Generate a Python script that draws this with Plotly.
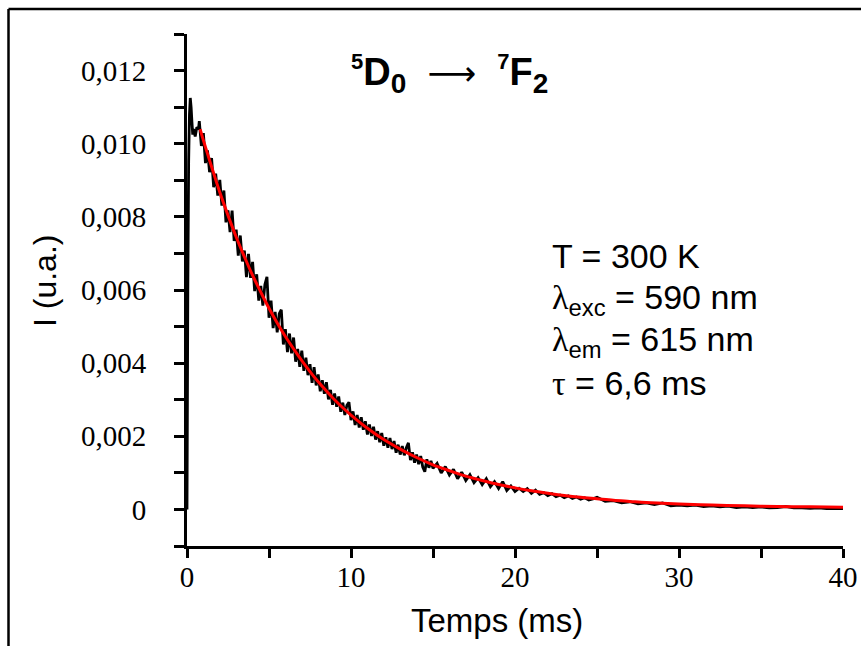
import plotly.graph_objects as go

# ---- measured decay (black trace): time in ms, intensity in units of 1e-5 a.u. ----
time_ms = [0.0, 0.05, 0.1, 0.15, 0.2, 0.25, 0.3, 0.35, 0.4, 0.5, 0.6, 0.7,
           0.75, 0.875, 1.0, 1.125, 1.25, 1.375, 1.5, 1.625, 1.75, 1.875,
           2.0, 2.125, 2.25, 2.375, 2.5, 2.625, 2.75, 2.875,
           3.0, 3.125, 3.25, 3.375, 3.5, 3.625, 3.75, 3.875,
           4.0, 4.125, 4.25, 4.375, 4.5, 4.625, 4.75, 4.875,
           5.0, 5.125, 5.25, 5.375, 5.5, 5.625, 5.75, 5.875,
           6.0, 6.125, 6.25, 6.375, 6.5, 6.625, 6.75, 6.875,
           7.0, 7.125, 7.25, 7.375, 7.5, 7.625, 7.75, 7.875,
           8.0, 8.125, 8.25, 8.375, 8.5, 8.625, 8.75, 8.875,
           9.0, 9.125, 9.25, 9.375, 9.5, 9.625, 9.75, 9.875,
           10.0, 10.125, 10.25, 10.375, 10.5, 10.625, 10.75, 10.875,
           11.0, 11.125, 11.25, 11.375, 11.5, 11.625, 11.75, 11.875,
           12.0, 12.125, 12.25, 12.375, 12.5, 12.625, 12.75, 12.875,
           13.0, 13.125, 13.25, 13.375, 13.5, 13.625, 13.75, 13.875,
           14.0, 14.125, 14.25, 14.375, 14.5, 14.625, 14.75, 14.875,
           15.0, 15.25, 15.5, 15.75, 16.0, 16.25, 16.5, 16.75,
           17.0, 17.25, 17.5, 17.75, 18.0, 18.25, 18.5, 18.75,
           19.0, 19.25, 19.5, 19.75, 20.0, 20.25, 20.5, 20.75,
           21.0, 21.25, 21.5, 21.75, 22.0, 22.25, 22.5, 22.75,
           23.0, 23.25, 23.5, 23.75, 24.0, 24.25, 24.5, 24.75,
           25.0, 25.5, 26.0, 26.5, 27.0, 27.5, 28.0, 28.5, 29.0, 29.5,
           30.0, 30.5, 31.0, 31.5, 32.0, 32.5, 33.0, 33.5, 34.0, 34.5,
           35.0, 35.5, 36.0, 36.5, 37.0, 37.5, 38.0, 38.5, 39.0, 39.5, 40.0]
intensity_e5 = [0, 600, 950, 1080, 1125, 1100, 1060, 1025, 1040, 1020, 1045, 1040,
                1062, 994, 1029, 947, 982, 922, 961, 881, 918, 858,
                901, 831, 872, 785, 818, 758, 817, 734,
                765, 694, 749, 678, 708, 635, 699, 633,
                677, 597, 643, 571, 611, 557, 615, 636,
                524, 571, 496, 540, 484, 535, 546, 451,
                493, 430, 481, 427, 470, 404, 439, 390,
                434, 379, 415, 367, 397, 346, 389, 339,
                369, 323, 353, 316, 348, 301, 327, 286,
                317, 281, 309, 267, 292, 258, 285, 293,
                244, 268, 231, 258, 224, 252, 218, 241,
                205, 232, 201, 226, 191, 214, 184, 209,
                174, 197, 169, 195, 165, 187, 155, 177,
                150, 173, 148, 169, 182, 135, 156, 128,
                150, 124, 146, 116, 103, 137, 114, 133,
                112, 126, 100, 117, 94, 110, 84, 102,
                79, 95, 73, 87, 68, 84, 62, 76,
                57, 76, 52, 64, 49, 58, 49, 57,
                44, 53, 41, 46, 38, 43, 35, 39,
                32, 37, 30, 34, 28, 32, 26, 29,
                33, 22, 24, 18, 21, 15, 18, 13, 18, 10,
                12, 10, 12, 8, 10, 7, 9, 5, 7, 5,
                7, 4, 5, 8, 4, 4, 3, 4, 2, 3, 2]

# ---- mono-exponential fit (red curve), tau = 6.6 ms ----
fit_time_ms = [0.8, 1, 1.5, 2, 2.5, 3, 3.5, 4, 4.5, 5, 5.5, 6, 6.5, 7, 7.5, 8, 8.5, 9, 9.5, 10,
               11, 12, 13, 14, 15, 16, 17, 18, 19, 20, 21, 22, 23, 24, 25, 26, 27, 28, 29, 30,
               32, 34, 36, 38, 40]
fit_intensity = [0.01040, 0.01009, 0.00937, 0.00867, 0.00804, 0.00745, 0.00691, 0.00640, 0.00594, 0.00550,
                 0.00510, 0.00473, 0.00439, 0.00407, 0.00377, 0.00349, 0.00324, 0.00300, 0.00278, 0.00258,
                 0.00222, 0.00191, 0.00165, 0.00142, 0.00122, 0.00106, 0.00091, 0.00079, 0.00068, 0.00059,
                 0.00051, 0.00044, 0.00038, 0.00033, 0.00029, 0.00025, 0.00022, 0.00019, 0.00017, 0.00015,
                 0.00012, 0.00010, 0.00008, 0.00007, 0.00006]

y_tick_vals = [0, 0.002, 0.004, 0.006, 0.008, 0.010, 0.012]
y_tick_text = ["0", "0,002", "0,004", "0,006", "0,008", "0,010", "0,012"]
y_minor_vals = [-0.001, 0.001, 0.003, 0.005, 0.007, 0.009, 0.011, 0.013]
x_tick_vals = [0, 10, 20, 30, 40]
x_tick_text = ["0", "10", "20", "30", "40"]
x_minor_vals = [5, 15, 25, 35]

SANS = "Liberation Sans, Arial, sans-serif"
SERIF = "Liberation Serif, Times New Roman, serif"

intensity = [v * 1e-5 for v in intensity_e5]

fig = go.Figure()
fig.add_trace(go.Scatter(x=time_ms, y=intensity, mode="lines",
                         line=dict(color="black", width=2.8, simplify=False), showlegend=False))
fig.add_trace(go.Scatter(x=fit_time_ms, y=fit_intensity, mode="lines",
                         line=dict(color="#ff0000", width=3, shape="spline"), showlegend=False))

W, H = 861, 646
L, T = 187, 34
R = W - 843
B = H - 546
pw, ph = W - L - R, H - T - B

def px(x):  # pixel x -> paper
    return (x - L) / pw

def py(y):  # pixel y -> paper
    return (H - B - y) / ph

fig.update_layout(
    width=W, height=H,
    margin=dict(l=L, r=R, t=T, b=B, pad=0, autoexpand=False),
    paper_bgcolor="white", plot_bgcolor="white",
    xaxis=dict(range=[0, 40], showline=True, linecolor="black", linewidth=3,
               ticks="outside", ticklen=9, tickwidth=3, tickcolor="black",
               tickvals=x_tick_vals, ticktext=x_tick_text,
               minor=dict(tickvals=x_minor_vals, ticks="outside", ticklen=9, tickwidth=3,
                          tickcolor="black", showgrid=False),
               tickfont=dict(family=SERIF, size=29, color="black"),
               ticklabelstandoff=-6, automargin=False,
               showgrid=False, zeroline=False),
    yaxis=dict(range=[-0.001, 0.013], showline=True, linecolor="black", linewidth=3,
               ticks="outside", ticklen=10, tickwidth=3, tickcolor="black",
               tickvals=y_tick_vals, ticktext=y_tick_text,
               minor=dict(tickvals=y_minor_vals, ticks="outside", ticklen=10, tickwidth=3,
                          tickcolor="black", showgrid=False),
               tickfont=dict(family=SERIF, size=29, color="black"),
               ticklabelstandoff=22, automargin=False,
               showgrid=False, zeroline=False),
    shapes=[
        dict(type="line", xref="paper", yref="paper", x0=px(8.5), x1=px(8.5), y0=py(9), y1=py(660),
             line=dict(color="black", width=2.5)),
        dict(type="line", xref="paper", yref="paper", x0=px(8.5), x1=px(880), y0=py(9), y1=py(9),
             line=dict(color="black", width=2.5)),
    ],
)

ann = []
# title
NB = "\u00a0"
title = ("<b><sup><span style='font-size:22px'>5</span></sup>D<sub><span style='font-size:28px'>0</span></sub></b>"
         + NB + " <span style='font-family:DejaVu Sans;font-size:34px'>⟶</span>" + NB + " "
         "<b><sup><span style='font-size:22px'>7</span></sup>F<sub><span style='font-size:28px'>2</span></sub></b>")
ann.append(dict(xref="paper", yref="paper", x=px(449), y=py(74), xanchor="center", yanchor="middle",
                text=title, showarrow=False, font=dict(family=SANS, size=38, color="black")))
# info block
lam = "<span style='font-family:Liberation Serif'>λ</span>"
tau = "<span style='font-family:Liberation Serif'>τ</span>"
lines = ["T = 300 K",
         lam + "<sub>exc</sub> = 590 nm",
         lam + "<sub>em</sub> = 615 nm",
         tau + " = 6,6 ms"]
baselines = [268, 311, 353, 395]
for txt, bl in zip(lines, baselines):
    ann.append(dict(xref="paper", yref="paper", x=px(550), y=py(bl - 12), xanchor="left", yanchor="middle",
                    text=txt, showarrow=False, font=dict(family=SANS, size=34, color="black")))
# axis titles
ann.append(dict(xref="paper", yref="paper", x=px(497), y=py(620), xanchor="center", yanchor="middle",
                text="Temps (ms)", showarrow=False, font=dict(family=SANS, size=33, color="black")))
ann.append(dict(xref="paper", yref="paper", x=px(45), y=py(281), xanchor="center", yanchor="middle",
                text="I (u.a.)", textangle=-90, showarrow=False, font=dict(family=SANS, size=32, color="black")))
fig.update_layout(annotations=ann)

fig.write_html("out.html", config={"displayModeBar": False},
               post_script="document.body.style.margin='0';")
